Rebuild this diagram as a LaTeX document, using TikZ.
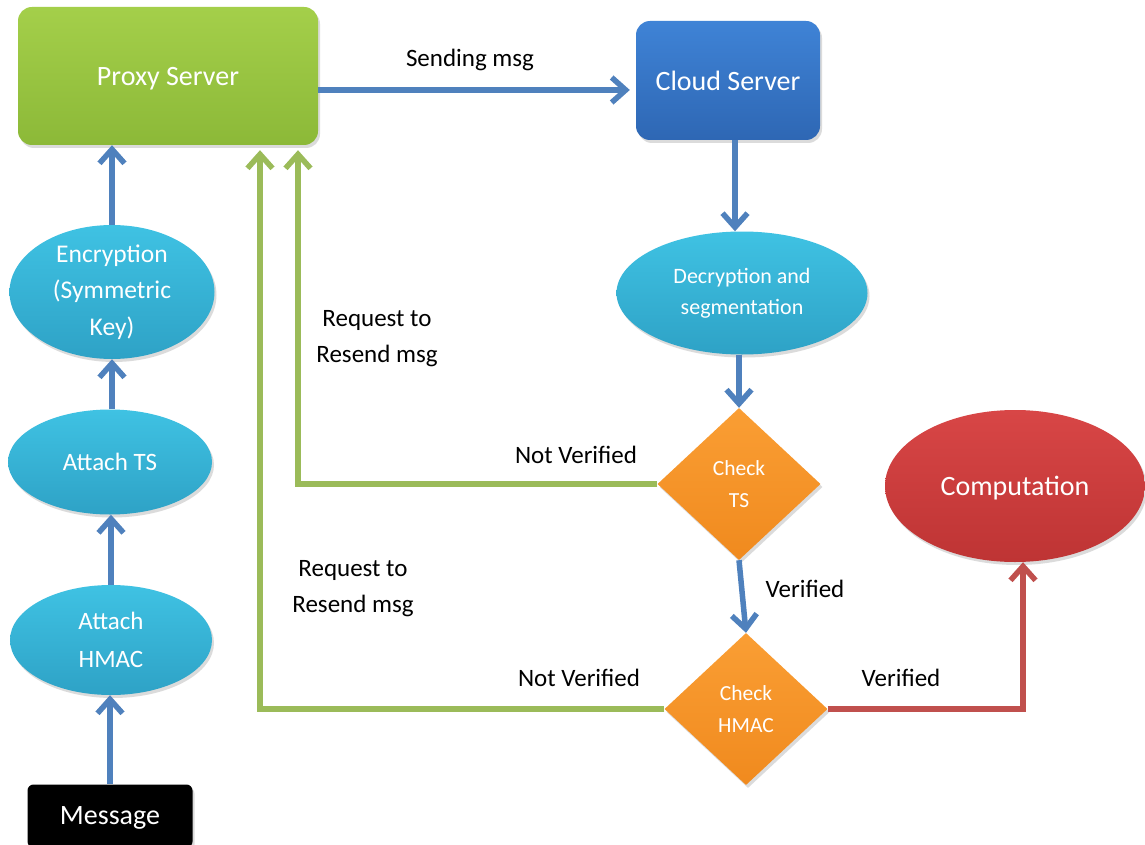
\documentclass[tikz,border=0pt]{standalone}
\usepackage{fontspec}
\setmainfont{Carlito}
\usetikzlibrary{arrows.meta,shapes.geometric,shadows}

\definecolor{arrowblue}{HTML}{4F81BD}
\definecolor{linegreen}{HTML}{9BBB59}
\definecolor{linered}{HTML}{C0504D}
\definecolor{proxytop}{HTML}{A4CF4A}
\definecolor{proxybot}{HTML}{8CB938}
\definecolor{cloudtop}{HTML}{3F83D6}
\definecolor{cloudbot}{HTML}{2E67B4}
\definecolor{aquatop}{HTML}{3FC2E3}
\definecolor{aquabot}{HTML}{2EA2C6}
\definecolor{orangetop}{HTML}{FA9E34}
\definecolor{orangebot}{HTML}{F08A1E}
\definecolor{redtop}{HTML}{D84646}
\definecolor{redbot}{HTML}{BE3434}

\begin{document}
\begin{tikzpicture}[x=1pt,y=-1pt,
  softshadow/.style={drop shadow={opacity=0.28,shadow xshift=2pt,shadow yshift=-3pt}},
  shapebase/.style={softshadow,text=white,inner sep=0pt,align=center},
  serverbox/.style={shapebase,rectangle,rounded corners=14pt,
    font=\fontsize{28}{34}\selectfont,text depth=0pt},
  proxyfill/.style={top color=proxytop,bottom color=proxybot},
  cloudfill/.style={top color=cloudtop,bottom color=cloudbot},
  stepell/.style={shapebase,ellipse,top color=aquatop,bottom color=aquabot},
  checkdia/.style={shapebase,diamond,top color=orangetop,bottom color=orangebot,
    minimum width=163pt,minimum height=152pt,font=\fontsize{21.5}{32}\selectfont},
  msgbox/.style={shapebase,rectangle,rounded corners=6pt,fill=black,
    minimum width=165pt,minimum height=63pt,font=\fontsize{28}{34}\selectfont,text depth=0pt},
  compell/.style={shapebase,ellipse,top color=redtop,bottom color=redbot,
    minimum width=260pt,minimum height=152pt,font=\fontsize{28}{34}\selectfont,text depth=0pt},
  lbl/.style={text=black,inner sep=0pt,align=center,font=\fontsize{25}{36}\selectfont},
  tip/.style={-{Straight Barb[length=14pt,width=25pt]}},
  bluearrow/.style={tip,draw=arrowblue,line width=5.5pt},
  greenarrow/.style={tip,draw=linegreen,line width=5.5pt,shorten >=5pt},
  redarrow/.style={tip,draw=linered,line width=5.5pt}
]
\useasboundingbox[fill=white] (0,0) rectangle (1145,845);

% servers
\node[serverbox,proxyfill,minimum width=300pt,minimum height=138pt] (proxy) at (168,76) {Proxy Server};
\node[serverbox,cloudfill,minimum width=184pt,minimum height=119pt] (cloud) at (728,80.5) {Cloud Server};

% sender side
\node[msgbox] (msg) at (110,816) {Message};
\node[stepell,minimum width=202pt,minimum height=110pt,font=\fontsize{25}{38}\selectfont] (hmac) at (111,640) {Attach\\HMAC};
\node[stepell,minimum width=204pt,minimum height=105pt,font=\fontsize{25}{36}\selectfont,text depth=0pt] (ts) at (110,462) {Attach TS};
\node[stepell,minimum width=205pt,minimum height=125pt,font=\fontsize{25.5}{36.5}\selectfont] (enc) at (112,292) {Encryption\\(Symmetric\\Key)};

% receiver side
\node[stepell,minimum width=251pt,minimum height=123pt,font=\fontsize{22}{31}\selectfont] (dec) at (742,293) {Decryption and\\segmentation};
\node[checkdia] (cts) at (739,484) {Check\\TS};
\node[checkdia] (chm) at (746,709) {Check\\HMAC};
\node[compell] (comp) at (1015,486) {Computation};

% routing columns
\coordinate (downx) at (735,0);
\coordinate (gin) at (298,0);
\coordinate (gout) at (260,0);
\coordinate (rup) at (1023,0);
\coordinate (sendy) at (0,90);

% sender chain
\draw[bluearrow] (msg.north) -- (msg.north |- hmac.south);
\draw[bluearrow] (hmac.north) -- (hmac.north |- ts.south);
\draw[bluearrow] (enc.south |- ts.north) -- (enc.south);
\draw[bluearrow] (enc.north) -- (enc.north |- proxy.south);
\draw[bluearrow] (proxy.east |- sendy) -- ([xshift=-6pt]cloud.west |- sendy);

% receiver chain
\draw[bluearrow] (downx |- cloud.south) -- (downx |- dec.north);
\draw[bluearrow] (cts.north |- dec.south) -- (cts.north);
\draw[bluearrow] (cts.south) -- (chm.north);

% feedback and result paths
\draw[greenarrow] (cts.west) -| (gin |- proxy.south);
\draw[greenarrow] (chm.west) -| (gout |- proxy.south);
\draw[redarrow] (chm.east) -| (rup |- comp.south);

% labels
\node[lbl,anchor=base] (lsend) at (470,67) {Sending msg};
\node[lbl] (lreq1) at (377,339) {Request to\\Resend msg};
\node[lbl] (lreq2) at (353,589) {Request to\\Resend msg};
\node[lbl,anchor=base] (lnv1) at (576,463) {Not Verified};
\node[lbl,anchor=base] (lv1) at (805,597) {Verified};
\node[lbl,anchor=base] (lnv2) at (579,686) {Not Verified};
\node[lbl,anchor=base] (lv2) at (901,686) {Verified};
\end{tikzpicture}
\end{document}
